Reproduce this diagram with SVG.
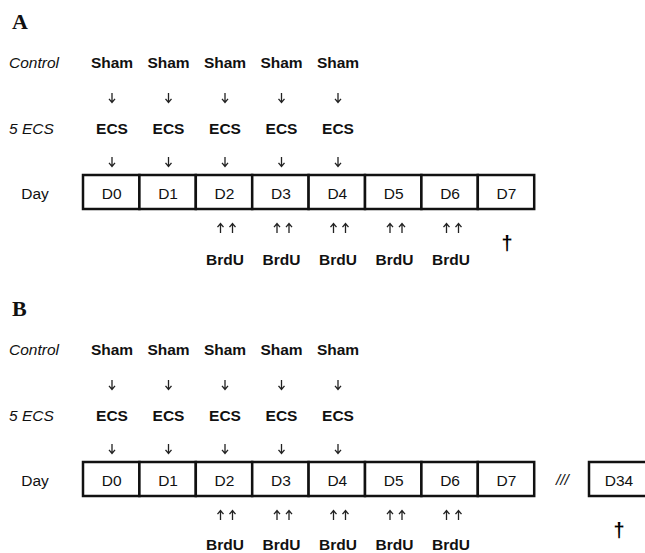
<svg xmlns="http://www.w3.org/2000/svg" width="645" height="553" viewBox="0 0 645 553">
<style>
text{font-family:"Liberation Sans",Arial,sans-serif;font-size:15.5px;fill:#111;text-anchor:middle}
.pl{font-family:"Liberation Serif","Times New Roman",serif;font-weight:bold;font-size:22px;text-anchor:start}
.it{font-style:italic;text-anchor:start}
.b{font-weight:bold}
.dg{font-weight:bold;font-size:20px;fill:#000}
.cell{fill:#fff;stroke:#111;stroke-width:2.5}
.arw{fill:none;stroke:#222;stroke-width:1.3}
</style>
<defs>
  <path id="dn" class="arw" d="M0,0 V9.5 M-3,5.8 L0,9.5 L3,5.8"/>
  <path id="up" class="arw" d="M0,0 V-9.5 M-3,-5.8 L0,-9.5 L3,-5.8"/>
</defs>
<rect width="645" height="553" fill="#fff"/>

<!-- Panel A -->
<g id="panelA">
  <text class="pl" x="12" y="29">A</text>
  <g id="A-labels">
    <text class="it" x="9" y="68">Control</text>
    <text class="it" x="9" y="134">5 ECS</text>
    <text x="35" y="199">Day</text>
  </g>
  <g id="A-sham">
    <text class="b" x="112" y="68">Sham</text>
    <text class="b" x="168.5" y="68">Sham</text>
    <text class="b" x="225" y="68">Sham</text>
    <text class="b" x="281.5" y="68">Sham</text>
    <text class="b" x="338" y="68">Sham</text>
  </g>
  <g id="A-ecs">
    <text class="b" x="112" y="134">ECS</text>
    <text class="b" x="168.5" y="134">ECS</text>
    <text class="b" x="225" y="134">ECS</text>
    <text class="b" x="281.5" y="134">ECS</text>
    <text class="b" x="338" y="134">ECS</text>
  </g>
  <g id="A-days">
    <g id="A-D0"><rect class="cell" x="83" y="175" width="56.4" height="34"/><text x="111.7" y="199">D0</text></g>
    <g id="A-D1"><rect class="cell" x="139.4" y="175" width="56.4" height="34"/><text x="168.1" y="199">D1</text></g>
    <g id="A-D2"><rect class="cell" x="195.8" y="175" width="56.4" height="34"/><text x="224.5" y="199">D2</text></g>
    <g id="A-D3"><rect class="cell" x="252.2" y="175" width="56.4" height="34"/><text x="280.9" y="199">D3</text></g>
    <g id="A-D4"><rect class="cell" x="308.6" y="175" width="56.4" height="34"/><text x="337.3" y="199">D4</text></g>
    <g id="A-D5"><rect class="cell" x="365" y="175" width="56.4" height="34"/><text x="393.7" y="199">D5</text></g>
    <g id="A-D6"><rect class="cell" x="421.4" y="175" width="56.4" height="34"/><text x="450.1" y="199">D6</text></g>
    <g id="A-D7"><rect class="cell" x="477.8" y="175" width="56.4" height="34"/><text x="506.5" y="199">D7</text></g>
  </g>
  <g id="A-brdu">
    <text class="b" x="225" y="265">BrdU</text>
    <text class="b" x="281.5" y="265">BrdU</text>
    <text class="b" x="338" y="265">BrdU</text>
    <text class="b" x="394.5" y="265">BrdU</text>
    <text class="b" x="451" y="265">BrdU</text>
  </g>
  <g id="A-dagger"><text class="dg" x="507" y="250">†</text></g>
  <g id="A-connectors">
    <use href="#dn" x="112" y="93"/><use href="#dn" x="168.5" y="93"/><use href="#dn" x="225" y="93"/><use href="#dn" x="281.5" y="93"/><use href="#dn" x="338" y="93"/>
    <use href="#dn" x="112" y="157"/><use href="#dn" x="168.5" y="157"/><use href="#dn" x="225" y="157"/><use href="#dn" x="281.5" y="157"/><use href="#dn" x="338" y="157"/>
    <use href="#up" x="220.5" y="233"/><use href="#up" x="232.5" y="233"/>
    <use href="#up" x="277" y="233"/><use href="#up" x="289" y="233"/>
    <use href="#up" x="333.5" y="233"/><use href="#up" x="345.5" y="233"/>
    <use href="#up" x="390" y="233"/><use href="#up" x="402" y="233"/>
    <use href="#up" x="446.5" y="233"/><use href="#up" x="458.5" y="233"/>
  </g>
</g>

<!-- Panel B -->
<g id="panelB" transform="translate(0,287)">
  <text class="pl" x="12" y="29">B</text>
  <g id="B-labels">
    <text class="it" x="9" y="68">Control</text>
    <text class="it" x="9" y="134">5 ECS</text>
    <text x="35" y="199">Day</text>
  </g>
  <g id="B-sham">
    <text class="b" x="112" y="68">Sham</text>
    <text class="b" x="168.5" y="68">Sham</text>
    <text class="b" x="225" y="68">Sham</text>
    <text class="b" x="281.5" y="68">Sham</text>
    <text class="b" x="338" y="68">Sham</text>
  </g>
  <g id="B-ecs">
    <text class="b" x="112" y="134">ECS</text>
    <text class="b" x="168.5" y="134">ECS</text>
    <text class="b" x="225" y="134">ECS</text>
    <text class="b" x="281.5" y="134">ECS</text>
    <text class="b" x="338" y="134">ECS</text>
  </g>
  <g id="B-days">
    <g id="B-D0"><rect class="cell" x="83" y="175" width="56.4" height="34"/><text x="111.7" y="199">D0</text></g>
    <g id="B-D1"><rect class="cell" x="139.4" y="175" width="56.4" height="34"/><text x="168.1" y="199">D1</text></g>
    <g id="B-D2"><rect class="cell" x="195.8" y="175" width="56.4" height="34"/><text x="224.5" y="199">D2</text></g>
    <g id="B-D3"><rect class="cell" x="252.2" y="175" width="56.4" height="34"/><text x="280.9" y="199">D3</text></g>
    <g id="B-D4"><rect class="cell" x="308.6" y="175" width="56.4" height="34"/><text x="337.3" y="199">D4</text></g>
    <g id="B-D5"><rect class="cell" x="365" y="175" width="56.4" height="34"/><text x="393.7" y="199">D5</text></g>
    <g id="B-D6"><rect class="cell" x="421.4" y="175" width="56.4" height="34"/><text x="450.1" y="199">D6</text></g>
    <g id="B-D7"><rect class="cell" x="477.8" y="175" width="56.4" height="34"/><text x="506.5" y="199">D7</text></g>
    <g id="B-gap"><text class="it" x="556" y="198">///</text></g>
    <g id="B-D34"><rect class="cell" x="589" y="175" width="62" height="34"/><text x="619" y="199">D34</text></g>
  </g>
  <g id="B-brdu">
    <text class="b" x="225" y="263">BrdU</text>
    <text class="b" x="281.5" y="263">BrdU</text>
    <text class="b" x="338" y="263">BrdU</text>
    <text class="b" x="394.5" y="263">BrdU</text>
    <text class="b" x="451" y="263">BrdU</text>
  </g>
  <g id="B-dagger"><text class="dg" x="619" y="250">†</text></g>
  <g id="B-connectors">
    <use href="#dn" x="112" y="93"/><use href="#dn" x="168.5" y="93"/><use href="#dn" x="225" y="93"/><use href="#dn" x="281.5" y="93"/><use href="#dn" x="338" y="93"/>
    <use href="#dn" x="112" y="157"/><use href="#dn" x="168.5" y="157"/><use href="#dn" x="225" y="157"/><use href="#dn" x="281.5" y="157"/><use href="#dn" x="338" y="157"/>
    <use href="#up" x="220.5" y="233"/><use href="#up" x="232.5" y="233"/>
    <use href="#up" x="277" y="233"/><use href="#up" x="289" y="233"/>
    <use href="#up" x="333.5" y="233"/><use href="#up" x="345.5" y="233"/>
    <use href="#up" x="390" y="233"/><use href="#up" x="402" y="233"/>
    <use href="#up" x="446.5" y="233"/><use href="#up" x="458.5" y="233"/>
  </g>
</g>
</svg>
